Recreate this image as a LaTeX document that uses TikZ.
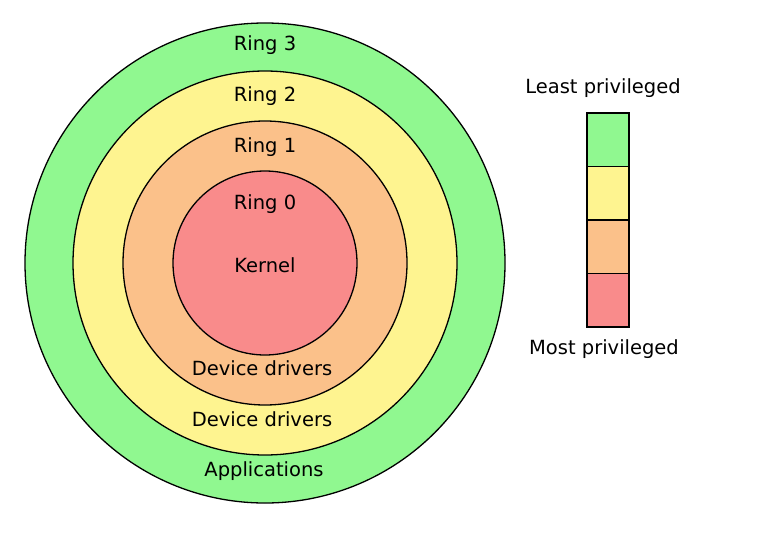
\documentclass[tikz,border=0pt]{standalone}
\usepackage{fontspec}
\setmainfont{DejaVu Sans}
\definecolor{ringgreen}{HTML}{90F890}
\definecolor{ringyellow}{HTML}{FEF490}
\definecolor{ringorange}{HTML}{FBC18A}
\definecolor{ringred}{HTML}{F98B8B}
\begin{document}
\begin{tikzpicture}[x=1pt,y=-1pt,
   ring/.style={draw=black, line width=1.3pt},
   lbl/.style={font=\fontsize{19.5}{23}\selectfont}]
   \useasboundingbox (0,0) rectangle (783,543);
   \fill[white] (0,0) rectangle (783,543);
   % rings
   \draw[ring, fill=ringgreen] (265,263) circle (240);
   \draw[ring, fill=ringyellow] (265,263) circle (192);
   \draw[ring, fill=ringorange] (265,263) circle (142);
   \draw[ring, fill=ringred] (265,263) circle (92);
   \node[lbl] (r3) at (265,45) {Ring 3};
   \node[lbl] (r2) at (265,96) {Ring 2};
   \node[lbl] (r1) at (265,147) {Ring 1};
   \node[lbl] (r0) at (265,204) {Ring 0};
   \node[lbl] (kern) at (265,265) {Kernel};
   \node[lbl] (dd1) at (262,368) {Device drivers};
   \node[lbl] (dd2) at (262,419) {Device drivers};
   \node[lbl] (apps) at (264,471) {Applications};
   % privilege bar
   \draw[ring, fill=ringgreen] (587,113) rectangle (629,166.5);
   \draw[ring, fill=ringyellow] (587,166.5) rectangle (629,220);
   \draw[ring, fill=ringorange] (587,220) rectangle (629,273.5);
   \draw[ring, fill=ringred] (587,273.5) rectangle (629,327);
   \node[lbl] (least) at (603,88) {Least privileged};
   \node[lbl] (most) at (604,349) {Most privileged};
\end{tikzpicture}
\end{document}
